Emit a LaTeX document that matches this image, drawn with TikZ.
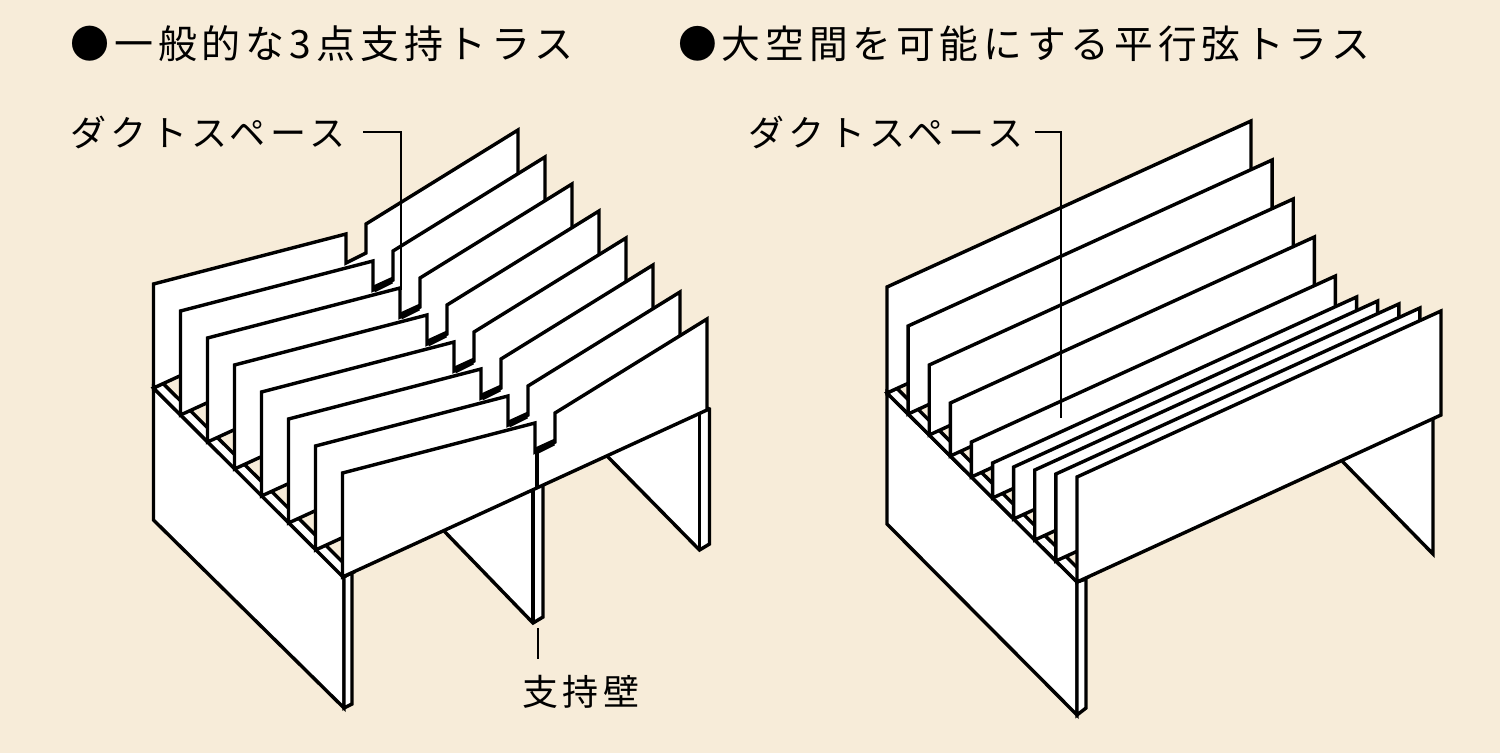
\documentclass[tikz,border=0pt]{standalone}
\usepackage{fontspec}
\newfontfamily\jpfont[LetterSpace=12.5]{Noto Sans CJK JP}
\usepackage{xcolor}
\usepackage{tikz}
\definecolor{paper}{RGB}{247,236,217}
\begin{document}
\begin{tikzpicture}[
  x=0.02cm,y=-0.02cm,
  truss/.style={draw=black,fill=white,line width=1.95pt,line join=miter},
  edgeline/.style={draw=black,line width=1.95pt},
  leader/.style={draw=black,line width=1.15pt},
  heading/.style={font=\jpfont\fontsize{22.2pt}{24pt}\selectfont,anchor=west,inner sep=0pt},
  callout/.style={font=\jpfont\fontsize{20.5pt}{23pt}\selectfont,inner sep=0pt}
]
\path[fill=paper,use as bounding box] (0,0) rectangle (1500,753);
\node[heading] (titleleft) at (70,44) {●一般的な3点支持トラス};
\node[heading,font=\jpfont\fontsize{22.05pt}{24pt}\selectfont] (titleright) at (678,44) {●大空間を可能にする平行弦トラス};
\node[callout,anchor=west] (ductleft) at (70,132) {ダクトスペース};
\node[callout,anchor=west] (ductright) at (748,132) {ダクトスペース};
\node[callout,anchor=center] (wallname) at (581,692) {支持壁};
\coordinate (ductlefttip) at (401,290);
\coordinate (ductrighttip) at (1060.5,418);
\coordinate (walltip) at (538,628);

\draw[truss] (153.5,388) -- (153.5,520) -- (344,708) -- (344,577) -- cycle;
\draw[truss] (344,577) -- (344,708) -- (352,704) -- (352,572) -- cycle;
\draw[truss] (153.5,388) -- (343,577) -- (353,572.4) -- (163,383.4) -- cycle;
\draw[truss] (445,510) -- (445,532) -- (533,623) -- (543,617) -- (543,470) -- cycle;
\draw[edgeline] (533,623) -- (533,480);
\draw[truss] (608,440) -- (608,457) -- (699.5,550) -- (709.5,544) -- (709.5,409) -- (699.5,405) -- cycle;
\draw[edgeline] (699.5,550) -- (699.5,410);
\foreach \k in {0,...,7}
  \draw[truss,shift={(27*\k,27*\k)}] (153.5,388) -- (153.5,284) -- (346,234) -- (346,263) -- (366,253) -- (366,224) -- (518,130) -- (518,221) -- cycle;
\foreach \k in {1,...,7}
  \draw[edgeline,line width=2.3pt,shift={(27*\k,27*\k)}] (347,263.5) -- (365,254.5);
\draw[edgeline] (537,452) -- (537,488);

\draw[truss] (887,393) -- (887,524) -- (1077,715) -- (1077,582) -- cycle;
\draw[truss] (1077,582) -- (1077,715) -- (1086,708) -- (1086,579) -- cycle;
\draw[truss] (887,393) -- (1077,582) -- (1087,577.4) -- (897,388.4) -- cycle;
\draw[truss] (1343,440) -- (1343,462) -- (1433,554) -- (1433,400) -- cycle;
\foreach \k/\h in {0/106,1/88,2/70,3/53,4/35,5/35,6/52,7/70,8/87,9/105}
  \draw[truss,shift={(21.11*\k,21*\k)}] (887,393) -- (887,393-\h) -- (1251,227-\h) -- (1251,226) -- cycle;

\draw[leader] ([xshift=10pt]ductleft.east) -| (ductlefttip);
\draw[leader] ([xshift=6.3pt]ductright.east) -| (ductrighttip);
\draw[leader] (walltip) -- ([yshift=9pt]wallname.north -| walltip);
\end{tikzpicture}
\end{document}
